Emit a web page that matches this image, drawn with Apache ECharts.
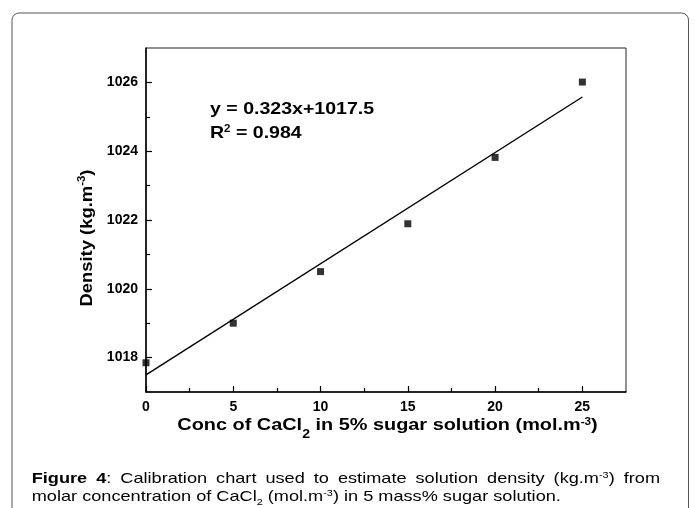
<!DOCTYPE html>
<html>
<head>
<meta charset="utf-8">
<script src="https://cdn.jsdelivr.net/npm/echarts@6/dist/echarts.min.js"></script>
<style>html,body{margin:0;padding:0;background:#fff}#c{width:695px;height:508px}</style>
</head>
<body>
<div id="c"></div>
<script>
// ---- data ----
const concentration = [0, 5, 10, 15, 20, 25];
const density = [1017.85, 1019.0, 1020.5, 1021.89, 1023.82, 1026.01];
const fitX = [0, 25];
const fitY = [1017.5, 1025.575];
const xTickLabels = [0, 5, 10, 15, 20, 25];
const xMinorTicks = [2.5, 7.5, 12.5, 17.5, 22.5];
const yTickLabels = [1018, 1020, 1022, 1024, 1026];
const yMinorTicks = [1019, 1021, 1023, 1025];
const equationText = 'y = 0.323x+1017.5\nR{sup|2} = 0.984';
const yTitle = 'Density (kg.m{sup|-3})';
const xTitle = 'Conc of CaCl{sub|2} in 5% sugar solution (mol.m{sup|-3})';
const captionWords = ['{b|Figure}', '{b|4}:', 'Calibration', 'chart', 'used', 'to', 'estimate', 'solution', 'density', '(kg.m{sup|-3})', 'from'];
const captionLine2 = 'molar concentration of CaCl{sub|2} (mol.m{sup|-3}) in 5 mass% sugar solution.';

const FAM = '"Liberation Sans", Arial, Helvetica, sans-serif';
const chart = echarts.init(document.getElementById('c'), null, {renderer: 'canvas'});

// text measuring for the justified caption line
const mctx = document.createElement('canvas').getContext('2d');
function frags(s) {
  const re = /\{(\w+)\|([^}]*)\}/g; const out = []; let last = 0, m;
  while ((m = re.exec(s))) {
    if (m.index > last) out.push({st: null, t: s.slice(last, m.index)});
    out.push({st: m[1], t: m[2]}); last = re.lastIndex;
  }
  if (last < s.length) out.push({st: null, t: s.slice(last)});
  return out;
}
function fontOf(st, base) {
  const s = st || base;
  return (s.fontWeight || 'normal') + ' ' + s.fontSize + 'px ' + FAM;
}
function richWidth(s, base, rich) {
  let w = 0;
  frags(s).forEach(f => { mctx.font = fontOf(f.st ? rich[f.st] : null, base); w += mctx.measureText(f.t).width; });
  return w;
}

const capBase = {fontSize: 15, fontWeight: 'normal'};
const capRich = {
  b: {fontSize: 15, fontWeight: 'bold', fontFamily: FAM, fill: '#000'},
  sup: {fontSize: 9, fontFamily: FAM, fill: '#000', height: 14, verticalAlign: 'top'},
  sub: {fontSize: 9, fontFamily: FAM, fill: '#000', height: 8, verticalAlign: 'bottom'}
};
const capScale = 1.21;
const capLeft = 31.7, capRight = 660;
const widths = captionWords.map(w => richWidth(w, capBase, capRich) * capScale);
const total = widths.reduce((a, b) => a + b, 0);
const gap = (capRight - capLeft - total) / (captionWords.length - 1);
const graphics = [];
let cx = capLeft;
captionWords.forEach((w, i) => {
  graphics.push({
    type: 'text', x: cx, y: 479, scaleX: capScale, silent: true,
    style: {text: w, fontSize: 15, fontFamily: FAM, fill: '#000', lineHeight: 20,
            align: 'left', verticalAlign: 'middle', rich: capRich}
  });
  cx += widths[i] + gap;
});
graphics.push({
  type: 'text', x: capLeft, y: 497, scaleX: capScale, silent: true,
  style: {text: captionLine2, fontSize: 15, fontFamily: FAM, fill: '#000', lineHeight: 20,
          align: 'left', verticalAlign: 'middle', rich: capRich}
});
// outer rounded frame
graphics.push({
  type: 'rect', silent: true, z: -1,
  shape: {x: 12, y: 13, width: 676.5, height: 540, r: 7},
  style: {fill: 'none', stroke: '#555', lineWidth: 1}
});
// regression equation
graphics.push({
  type: 'text', x: 210, y: 97.8, scaleX: 1.15, silent: true,
  style: {text: equationText, fontSize: 17, fontWeight: 'bold', fontFamily: FAM, fill: '#000',
          lineHeight: 24, align: 'left', verticalAlign: 'top',
          rich: {sup: {fontSize: 10, fontWeight: 'bold', fontFamily: FAM, fill: '#000', height: 14, verticalAlign: 'top'}}}
});
// y axis title
graphics.push({
  type: 'text', x: 87.5, y: 238, rotation: Math.PI / 2, scaleX: 1.15, silent: true,
  style: {text: yTitle, fontSize: 16, fontWeight: 'bold', fontFamily: FAM, fill: '#000',
          lineHeight: 24, align: 'center', verticalAlign: 'middle',
          rich: {sup: {fontSize: 10, fontWeight: 'bold', fontFamily: FAM, fill: '#000', height: 14, verticalAlign: 'top'}}}
});
// x axis title
graphics.push({
  type: 'text', x: 387.5, y: 425.8, scaleX: 1.17, silent: true,
  style: {text: xTitle, fontSize: 17, fontWeight: 'bold', fontFamily: FAM, fill: '#000',
          lineHeight: 28, align: 'center', verticalAlign: 'middle',
          rich: {
            sup: {fontSize: 10, fontWeight: 'bold', fontFamily: FAM, fill: '#000', height: 20, verticalAlign: 'top'},
            sub: {fontSize: 12, fontWeight: 'bold', fontFamily: FAM, fill: '#000', height: 10, verticalAlign: 'bottom'}
          }}
});

const gridPos = {left: 146, right: 69, top: 48, bottom: 116};
const labelStyle = {fontSize: 14, fontWeight: 'bold', fontFamily: FAM, color: '#000', margin: 8,
                    formatter: v => String(v)};
const option = {
  animation: false,
  backgroundColor: '#fff',
  grid: [
    Object.assign({show: true, borderColor: '#222', borderWidth: 1, backgroundColor: 'transparent'}, gridPos),
    Object.assign({show: false}, gridPos)
  ],
  xAxis: [
    {type: 'value', gridIndex: 0, min: 0, max: 27.5, interval: 5,
     axisLine: {show: true, onZero: false, lineStyle: {color: '#000', width: 1.5}},
     axisTick: {show: true, inside: true, length: 6, lineStyle: {color: '#000', width: 1.2}, customValues: xTickLabels},
     axisLabel: Object.assign({customValues: xTickLabels}, labelStyle),
     splitLine: {show: false}},
    {type: 'value', gridIndex: 1, min: 0, max: 27.5, interval: 2.5,
     axisLine: {show: false, onZero: false},
     axisTick: {show: true, inside: true, length: 4, lineStyle: {color: '#000', width: 1.2}, customValues: xMinorTicks},
     axisLabel: {show: false}, splitLine: {show: false}}
  ],
  yAxis: [
    {type: 'value', gridIndex: 0, min: 1017, max: 1027, interval: 1,
     axisLine: {show: true, onZero: false, lineStyle: {color: '#000', width: 1.5}},
     axisTick: {show: true, inside: true, length: 6, lineStyle: {color: '#000', width: 1.2}, customValues: yTickLabels},
     axisLabel: Object.assign({customValues: yTickLabels}, labelStyle),
     splitLine: {show: false}},
    {type: 'value', gridIndex: 1, min: 1017, max: 1027, interval: 1,
     axisLine: {show: false, onZero: false},
     axisTick: {show: true, inside: true, length: 4, lineStyle: {color: '#000', width: 1.2}, customValues: yMinorTicks},
     axisLabel: {show: false}, splitLine: {show: false}}
  ],
  series: [
    {type: 'line', xAxisIndex: 0, yAxisIndex: 0, showSymbol: false, silent: true,
     data: fitX.map((x, i) => [x, fitY[i]]),
     lineStyle: {color: '#000', width: 1.4}, z: 2},
    {type: 'scatter', xAxisIndex: 0, yAxisIndex: 0, symbol: 'rect', symbolSize: 7, silent: true,
     data: concentration.map((x, i) => [x, density[i]]),
     itemStyle: {color: '#000'}, z: 3}
  ],
  graphic: graphics
};
chart.setOption(option);
</script>
</body>
</html>
